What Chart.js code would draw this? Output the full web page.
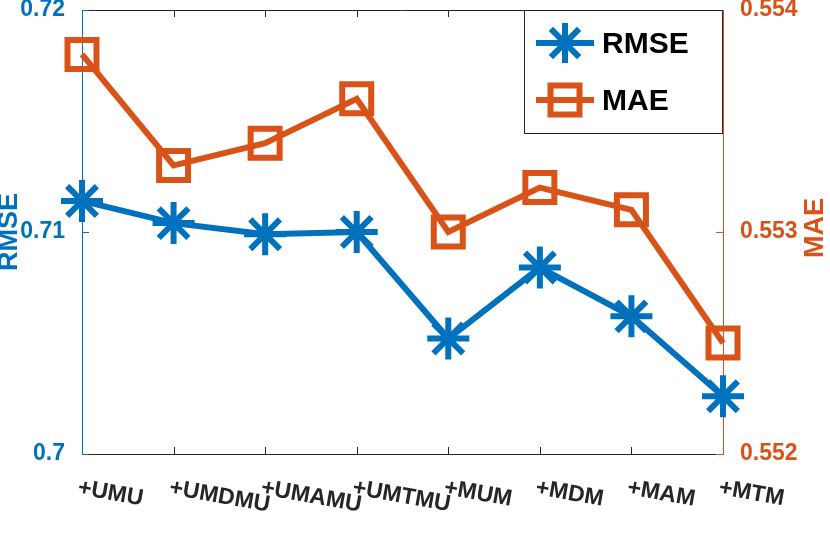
<!DOCTYPE html>
<html>
<head>
<meta charset="utf-8">
<script src="https://cdn.jsdelivr.net/npm/chart.js@4"></script>
<style>
  html, body { margin: 0; padding: 0; background: #fff; }
  #wrap { width: 830px; height: 544px; }
</style>
</head>
<body>
<div id="wrap"><canvas id="myChart" width="830" height="544"></canvas></div>
<script>
// DATA
const categories = ['+UMU', '+UMDMU', '+UMAMU', '+UMTMU', '+MUM', '+MDM', '+MAM', '+MTM']
const rmse = [0.7114, 0.7104, 0.7099, 0.7100, 0.7052, 0.7084, 0.7062, 0.7026]
const mae = [0.5538, 0.5533, 0.5534, 0.5536, 0.5530, 0.5532, 0.5531, 0.5525]
const rmseTicks = [0.70, 0.71, 0.72]
const maeTicks = [0.552, 0.553, 0.554]

const blue = '#0072BD'
const orange = '#D95319'
const dark = '#262626'
const family = '"Liberation Sans", Arial, Helvetica, sans-serif'

Chart.defaults.font.family = family

// draws matlab-ish extras: box top, inward ticks, rotated x labels, axis titles, legend
const matlabPlugin = {
  id: 'matlab',
  afterDraw: chart => {
    const ctx = chart.ctx
    const area = chart.chartArea
    const x = chart.scales.x
    const y = chart.scales.y
    const y1 = chart.scales.y1

    ctx.save()
    ctx.lineWidth = 1
    ctx.strokeStyle = dark
    ctx.beginPath()
    ctx.moveTo(area.left, area.top + 0.5)
    ctx.lineTo(area.right, area.top + 0.5)
    ctx.stroke()

    // x ticks (inward, bottom and top)
    categories.forEach((c, i) => {
      if (i === 0 || i === categories.length - 1) return
      const px = Math.round(x.getPixelForValue(i)) + 0.5
      ctx.beginPath()
      ctx.moveTo(px, area.bottom)
      ctx.lineTo(px, area.bottom - 7)
      ctx.moveTo(px, area.top)
      ctx.lineTo(px, area.top + 7)
      ctx.stroke()
    })

    // y ticks
    ctx.strokeStyle = blue
    rmseTicks.forEach(v => {
      const py = Math.round(y.getPixelForValue(v)) + 0.5
      ctx.beginPath()
      ctx.moveTo(area.left, py)
      ctx.lineTo(area.left + 7, py)
      ctx.stroke()
    })
    ctx.strokeStyle = orange
    maeTicks.forEach(v => {
      const py = Math.round(y1.getPixelForValue(v)) + 0.5
      ctx.beginPath()
      ctx.moveTo(area.right, py)
      ctx.lineTo(area.right - 7, py)
      ctx.stroke()
    })

    // x labels, rotated clockwise
    ctx.fillStyle = dark
    ctx.font = 'bold 23px ' + family
    ctx.textAlign = 'left'
    ctx.textBaseline = 'alphabetic'
    categories.forEach((c, i) => {
      const px = x.getPixelForValue(i)
      ctx.save()
      ctx.translate(px - 5, area.bottom + 40)
      ctx.rotate(10 * Math.PI / 180)
      ctx.fillText(c, 0, 0)
      ctx.restore()
    })

    // axis titles
    ctx.font = 'bold 27px ' + family
    ctx.textAlign = 'center'
    ctx.textBaseline = 'middle'
    ctx.save()
    ctx.fillStyle = blue
    ctx.translate(10, 232)
    ctx.rotate(-Math.PI / 2)
    ctx.fillText('RMSE', 0, 0)
    ctx.restore()
    ctx.save()
    ctx.fillStyle = orange
    ctx.translate(816, 228)
    ctx.rotate(-Math.PI / 2)
    ctx.fillText('MAE', 0, 0)
    ctx.restore()

    // legend
    const lx = area.right - 199
    const ly = area.top
    ctx.fillStyle = '#fff'
    ctx.fillRect(lx, ly, 199, 124)
    ctx.strokeStyle = dark
    ctx.lineWidth = 1
    ctx.strokeRect(lx + 0.5, ly + 0.5, 198, 123)

    const entries = [
      { label: 'RMSE', color: blue, style: 'star', dy: 33 },
      { label: 'MAE', color: orange, style: 'rect', dy: 90 }
    ]
    entries.forEach(e => {
      const cy = ly + e.dy
      const cx = lx + 41
      ctx.strokeStyle = e.color
      ctx.lineWidth = 6
      ctx.beginPath()
      ctx.moveTo(lx + 12, cy)
      ctx.lineTo(lx + 70, cy)
      ctx.stroke()
      if (e.style === 'star') {
        const r = 20
        const d = r * Math.SQRT1_2
        ctx.beginPath()
        ctx.moveTo(cx, cy - r); ctx.lineTo(cx, cy + r)
        ctx.moveTo(cx - r, cy); ctx.lineTo(cx + r, cy)
        ctx.moveTo(cx - d, cy - d); ctx.lineTo(cx + d, cy + d)
        ctx.moveTo(cx - d, cy + d); ctx.lineTo(cx + d, cy - d)
        ctx.stroke()
      } else {
        ctx.strokeRect(cx - 14.5, cy - 14.5, 29, 29)
      }
      ctx.fillStyle = '#000'
      ctx.font = 'bold 30px ' + family
      ctx.textAlign = 'left'
      ctx.textBaseline = 'middle'
      ctx.fillText(e.label, lx + 78, cy + 2)
    })
    ctx.restore()
  }
}

const data = {
  labels: categories,
  datasets: [
    {
      label: 'RMSE',
      data: rmse,
      yAxisID: 'y',
      borderColor: blue,
      backgroundColor: blue,
      borderWidth: 6,
      pointStyle: 'star',
      pointRadius: 21,
      pointHoverRadius: 21,
      pointBorderWidth: 6,
      pointBorderColor: blue,
      tension: 0,
      clip: false
    },
    {
      label: 'MAE',
      data: mae,
      yAxisID: 'y1',
      borderColor: orange,
      backgroundColor: 'rgba(0,0,0,0)',
      borderWidth: 6,
      pointStyle: 'rect',
      pointRadius: 20.5,
      pointHoverRadius: 20.5,
      pointBorderWidth: 6,
      pointBorderColor: orange,
      pointBackgroundColor: 'rgba(0,0,0,0)',
      tension: 0,
      clip: false
    }
  ]
}

// fixed box sizes so the plot area lands where the original one is
const fitY = width => scale => {
  scale.width = width
  scale.paddingTop = 0
  scale.paddingBottom = 0
}

const config = {
  type: 'line',
  data: data,
  options: {
    responsive: false,
    animation: false,
    events: [],
    layout: { autoPadding: false, padding: { top: 10, right: 0, left: 0, bottom: 0 } },
    plugins: {
      legend: { display: false },
      tooltip: { enabled: false }
    },
    scales: {
      x: {
        type: 'category',
        offset: false,
        grid: { display: false },
        border: { display: true, color: dark, width: 1 },
        ticks: { display: false },
        afterFit: scale => {
          scale.height = 90
          scale.paddingLeft = 0
          scale.paddingRight = 0
        }
      },
      y: {
        position: 'left',
        min: 0.70,
        max: 0.72,
        afterBuildTicks: scale => { scale.ticks = rmseTicks.map(v => ({ value: v })) },
        ticks: {
          color: blue,
          padding: 9,
          font: { size: 23, weight: 'bold' },
          callback: v => String(Number(v.toFixed(2)))
        },
        grid: { display: false },
        border: { display: true, color: blue, width: 1 },
        afterFit: fitY(82)
      },
      y1: {
        position: 'right',
        min: 0.552,
        max: 0.554,
        afterBuildTicks: scale => { scale.ticks = maeTicks.map(v => ({ value: v })) },
        ticks: {
          color: orange,
          padding: 9,
          font: { size: 23, weight: 'bold' },
          callback: v => v.toFixed(3)
        },
        grid: { display: false },
        border: { display: true, color: orange, width: 1 },
        afterFit: fitY(107)
      }
    }
  },
  plugins: [matlabPlugin]
}

const myChart = new Chart(document.getElementById('myChart'), config)
</script>
</body>
</html>
